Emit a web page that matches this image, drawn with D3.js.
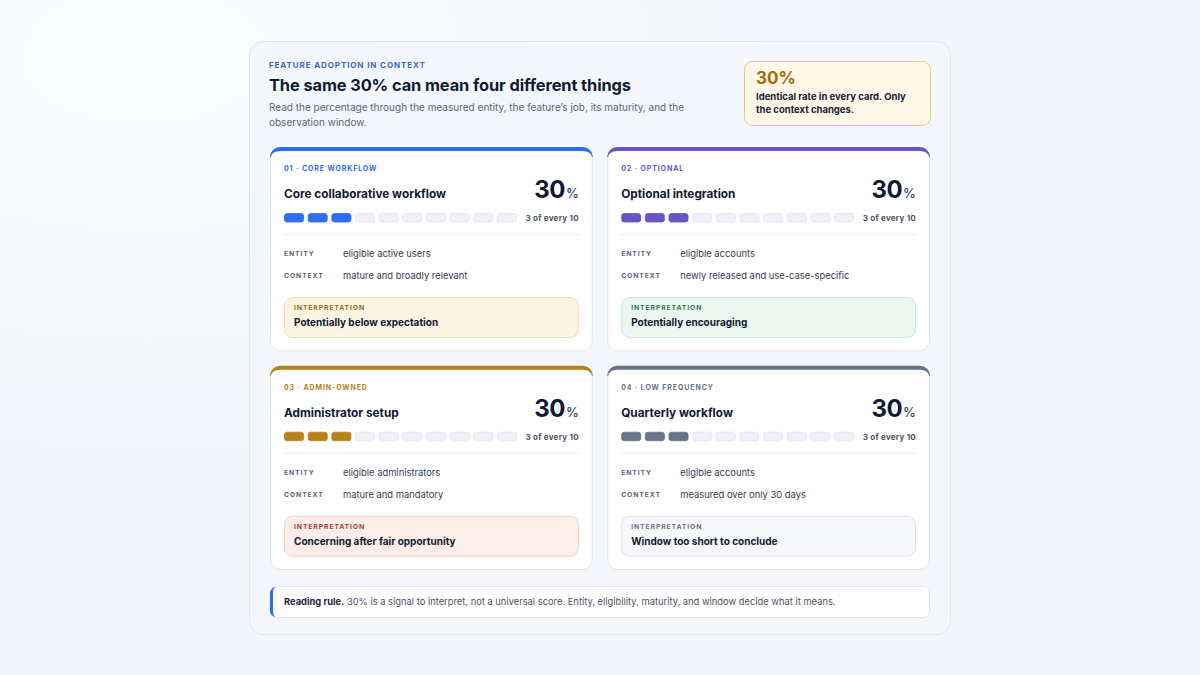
<!DOCTYPE html>
<html>
<head>
<meta charset="utf-8">
<script src="https://cdn.jsdelivr.net/npm/d3@7"></script>
<style>
  html, body { margin: 0; padding: 0; background: #f3f6fb; }
  svg { display: block; font-family: Inter, "Noto Sans", sans-serif; }
</style>
</head>
<body>
<svg id="chart" width="1200" height="675"></svg>
<script>
// ---- data ----
var cardIds = ["01", "02", "03", "04"];
var cardTags = ["CORE WORKFLOW", "OPTIONAL", "ADMIN-OWNED", "LOW FREQUENCY"];
var cardTitles = ["Core collaborative workflow", "Optional integration", "Administrator setup", "Quarterly workflow"];
var adoptionRates = [30, 30, 30, 30];
var entities = ["eligible active users", "eligible accounts", "eligible administrators", "eligible accounts"];
var contexts = ["mature and broadly relevant", "newly released and use-case-specific", "mature and mandatory", "measured over only 30 days"];
var interpretations = ["Potentially below expectation", "Potentially encouraging", "Concerning after fair opportunity", "Window too short to conclude"];
var segmentTotal = 10;

var accents = ["#2f6df2", "#6a53c6", "#b7821b", "#657489"];
var interpFill = ["#fdf5e4", "#ecf6f0", "#fdeee9", "#f6f8fb"];
var interpStroke = ["#f0dcaa", "#cfe6d8", "#f2cfc2", "#dde3ec"];
var interpLabel = ["#9a6b12", "#2e7b57", "#a3432c", "#6b7689"];

var svg = d3.select("#chart");

// page background glow
var defs = svg.append("defs");
var glow = defs.append("radialGradient").attr("id", "glow")
    .attr("cx", "12%").attr("cy", "8%").attr("r", "60%");
glow.append("stop").attr("offset", "0%").attr("stop-color", "#fbfcfe");
glow.append("stop").attr("offset", "100%").attr("stop-color", "#f2f5fa");
svg.append("rect").attr("width", 1200).attr("height", 675).attr("fill", "url(#glow)");

// outer panel
svg.append("rect")
    .attr("x", 249.5).attr("y", 41.5).attr("width", 701).attr("height", 593)
    .attr("rx", 14).attr("fill", "#f4f7fc").attr("stroke", "#e0e6ef");

// header
svg.append("text").attr("x", 269).attr("y", 68)
    .attr("font-size", 8).attr("font-weight", 700).attr("letter-spacing", 0.9)
    .attr("fill", "#3a68c6").text("FEATURE ADOPTION IN CONTEXT");
svg.append("text").attr("x", 269).attr("y", 91)
    .attr("font-size", 16.4).attr("font-weight", 700).attr("fill", "#101a31")
    .attr("letter-spacing", -0.1)
    .text("The same " + adoptionRates[0] + "% can mean four different things");
var sub = svg.append("text").attr("font-size", 10).attr("fill", "#5b6478");
sub.append("tspan").attr("x", 269).attr("y", 111)
    .text("Read the percentage through the measured entity, the feature\u2019s job, its maturity, and the");
sub.append("tspan").attr("x", 269).attr("y", 126).text("observation window.");

// callout
svg.append("rect").attr("x", 744.5).attr("y", 61.5).attr("width", 186).attr("height", 64)
    .attr("rx", 8).attr("fill", "#fff7e7").attr("stroke", "#ecc879");
svg.append("text").attr("x", 756).attr("y", 84)
    .attr("font-size", 17).attr("font-weight", 700).attr("fill", "#a26b0e")
    .text(adoptionRates[0] + "%");
var co = svg.append("text").attr("font-size", 9.5).attr("font-weight", 700).attr("fill", "#17213b");
co.append("tspan").attr("x", 756).attr("y", 100).text("Identical rate in every card. Only");
co.append("tspan").attr("x", 756).attr("y", 113).text("the context changes.");

// card grid
var col = d3.scaleBand().domain([0, 1]).range([270, 930]).paddingInner(0.0425);
var row = d3.scaleBand().domain([0, 1]).range([147, 570]).paddingInner(0.066);
var cw = col.bandwidth(), ch = row.bandwidth();

// segment scale inside a card
var seg = d3.scaleBand().domain(d3.range(segmentTotal)).range([0, 233]).paddingInner(0.15);

function topBand(w, r, t) {
    var ri = r - 1, rv = r - t;
    return "M0," + r + " A" + r + "," + r + " 0 0 1 " + r + ",0 H" + (w - r) +
        " A" + r + "," + r + " 0 0 1 " + w + "," + r +
        " L" + (w - 1) + "," + r +
        " A" + ri + "," + rv + " 0 0 0 " + (w - 1 - ri) + "," + t +
        " H" + (1 + ri) +
        " A" + ri + "," + rv + " 0 0 0 1," + r + " Z";
}

var cards = svg.selectAll("g.card").data(cardIds).enter().append("g")
    .attr("class", "card")
    .attr("transform", function (d, i) { return "translate(" + col(i % 2) + "," + row(Math.floor(i / 2)) + ")"; });

cards.append("rect").attr("x", 0.5).attr("y", 0.5).attr("width", cw - 1).attr("height", ch - 1)
    .attr("rx", 10).attr("fill", "#ffffff").attr("stroke", "#e2e7ef");
cards.append("path").attr("d", topBand(cw, 10, 4))
    .attr("fill", function (d, i) { return accents[i]; });

cards.append("text").attr("x", 14).attr("y", 24)
    .attr("font-size", 7).attr("font-weight", 700).attr("letter-spacing", 0.9)
    .attr("fill", function (d, i) { return accents[i]; })
    .text(function (d, i) { return d + " \u00b7 " + cardTags[i]; });

cards.append("text").attr("x", 14).attr("y", 51)
    .attr("font-size", 11.8).attr("font-weight", 700).attr("fill", "#111a30")
    .text(function (d, i) { return cardTitles[i]; });

var big = cards.append("text").attr("x", cw - 14).attr("y", 51).attr("text-anchor", "end")
    .attr("fill", "#0f1a33");
big.append("tspan").attr("font-size", 24).attr("font-weight", 700).attr("letter-spacing", -0.5)
    .text(function (d, i) { return adoptionRates[i]; });
big.append("tspan").attr("font-size", 13).attr("font-weight", 500).attr("fill", "#3c4660").attr("dx", 1)
    .text("%");

var bar = cards.append("g").attr("transform", "translate(14,66)");
bar.each(function (d, i) {
    var filled = Math.round(adoptionRates[i] / 100 * segmentTotal);
    d3.select(this).selectAll("rect").data(d3.range(segmentTotal)).enter().append("rect")
        .attr("x", function (k) { return seg(k) + 0.5; })
        .attr("y", 0.5)
        .attr("width", seg.bandwidth() - 1)
        .attr("height", 8.5)
        .attr("rx", 2.5)
        .attr("fill", function (k) { return k < filled ? accents[i] : "#eef2f8"; })
        .attr("stroke", function (k) { return k < filled ? accents[i] : "#dfe5ee"; })
        .attr("stroke-width", 0.8);
});

cards.append("text").attr("x", cw - 14).attr("y", 74).attr("text-anchor", "end")
    .attr("font-size", 8).attr("font-weight", 700).attr("fill", "#4b5467").attr("letter-spacing", 0.25)
    .text(function (d, i) { return Math.round(adoptionRates[i] / 100 * segmentTotal) + " of every " + segmentTotal; });

cards.append("line").attr("x1", 14).attr("x2", cw - 14).attr("y1", 87.5).attr("y2", 87.5)
    .attr("stroke", "#edf1f6");

function metaRow(label, values, y) {
    cards.append("text").attr("x", 14).attr("y", y)
        .attr("font-size", 6.8).attr("font-weight", 700).attr("letter-spacing", 0.9)
        .attr("fill", "#5c6579").text(label);
    cards.append("text").attr("x", 73).attr("y", y + 1)
        .attr("font-size", 9.4).attr("fill", "#363c52")
        .text(function (d, i) { return values[i]; });
}
metaRow("ENTITY", entities, 109);
metaRow("CONTEXT", contexts, 131);

cards.append("rect").attr("x", 14.5).attr("y", 150.5).attr("width", cw - 29).attr("height", 40)
    .attr("rx", 8)
    .attr("fill", function (d, i) { return interpFill[i]; })
    .attr("stroke", function (d, i) { return interpStroke[i]; });
cards.append("text").attr("x", 24).attr("y", 163)
    .attr("font-size", 6.8).attr("font-weight", 700).attr("letter-spacing", 0.9)
    .attr("fill", function (d, i) { return interpLabel[i]; })
    .text("INTERPRETATION");
cards.append("text").attr("x", 24).attr("y", 179)
    .attr("font-size", 10).attr("font-weight", 700).attr("fill", "#121b30")
    .text(function (d, i) { return interpretations[i]; });

// footer rule
svg.append("rect").attr("x", 270.5).attr("y", 586.5).attr("width", 659).attr("height", 31)
    .attr("rx", 6).attr("fill", "#ffffff").attr("stroke", "#e3e8f0");
svg.append("path")
    .attr("d", "M276,587 A6,6 0 0 0 270,593 V611 A6,6 0 0 0 276,617 A4,6 0 0 1 273,611 V593 A4,6 0 0 1 276,587 Z")
    .attr("fill", "#2f6df2");
var ft = svg.append("text").attr("x", 284).attr("y", 605).attr("font-size", 9.35).attr("fill", "#4a5266");
ft.append("tspan").attr("font-weight", 700).attr("fill", "#1e263b").text("Reading rule.");
ft.append("tspan").text(" " + adoptionRates[0] + "% is a signal to interpret, not a universal score. Entity, eligibility, maturity, and window decide what it means.");
</script>
</body>
</html>
